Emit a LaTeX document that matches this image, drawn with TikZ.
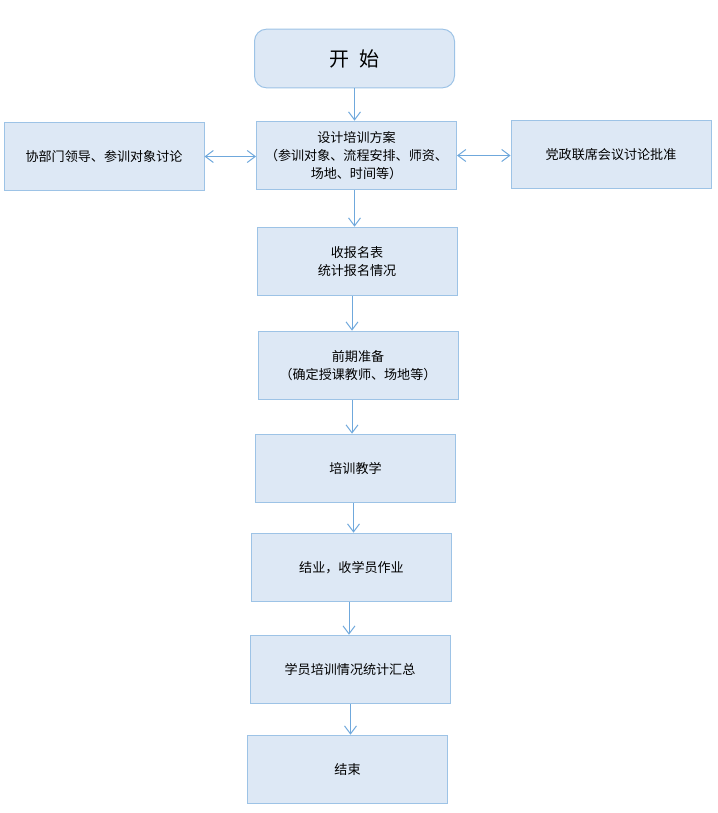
\documentclass[tikz,border=0pt]{standalone}
\usepackage{fontspec}
\newfontfamily\cjk{Noto Sans CJK SC}
\usetikzlibrary{arrows.meta}
\definecolor{boxfill}{HTML}{DDE8F5}
\definecolor{boxline}{HTML}{9DC3E6}
\definecolor{arrowline}{HTML}{6FA8DC}

\begin{document}
\begin{tikzpicture}[
    x=0.75pt, y=-0.75pt,
    >={Straight Barb[length=6pt,width=9pt]},
    link/.style={->, draw=arrowline, line width=0.75pt},
    block/.style={
        draw=boxline,
        line width=0.75pt,
        rectangle,
        fill=boxfill,
        minimum height=51.5pt,
        minimum width=150pt,
        align=center,
        inner sep=2pt,
        font=\cjk\fontsize{9.8}{13.5}\selectfont
    }
]
    \useasboundingbox (0,0) rectangle (717,813);

    % Nodes
    \node[block, rounded corners=9pt, minimum height=44pt, font=\cjk\fontsize{15}{18}\selectfont] (start) at (354.5,58.5)
    {开\hspace{0.5em}始};

    \node[block] (plan) at (356.5,155.5)
    {设计培训方案\\（参训对象、流程安排、师资、\\场地、时间等）};

    \node[block] (dept) at (104,156.5)
    {协部门领导、参训对象讨论};

    \node[block] (party) at (611,154.5)
    {党政联席会议讨论批准};

    \node[block] (signup) at (357,261.5)
    {收报名表\\统计报名情况};

    \node[block] (prep) at (358,365.5)
    {前期准备\\（确定授课教师、场地等）};

    \node[block] (teach) at (355.5,468.5)
    {培训教学};

    \node[block] (finish) at (351.5,567.5)
    {结业，收学员作业};

    \node[block] (summary) at (350,669.5)
    {学员培训情况统计汇总};

    \node[block] (stop) at (347.5,769.5)
    {结束};

    % Arrows
    \draw[link] (start.south) -- (start.south |- plan.north);
    \draw[link] (plan.south -| start.south) -- (start.south |- signup.north);
    \draw[link] ([xshift=-3.75pt]signup.south) -- ([xshift=-3.75pt]signup.south |- prep.north);
    \draw[link] ([xshift=-3.75pt]signup.south |- prep.south) -- ([xshift=-3.75pt]signup.south |- teach.north);
    \draw[link] ([xshift=-1.5pt]teach.south) -- ([xshift=-1.5pt]teach.south |- finish.north);
    \draw[link] ([xshift=-0.75pt]summary.north |- finish.south) -- ([xshift=-0.75pt]summary.north);
    \draw[link] ([xshift=0.375pt]summary.south) -- ([xshift=0.375pt]summary.south |- stop.north);
    \draw[link, <->] (dept.east) -- (dept.east -| plan.west);
    \draw[link, <->] (plan.east) -- (plan.east -| party.west);

\end{tikzpicture}
\end{document}
